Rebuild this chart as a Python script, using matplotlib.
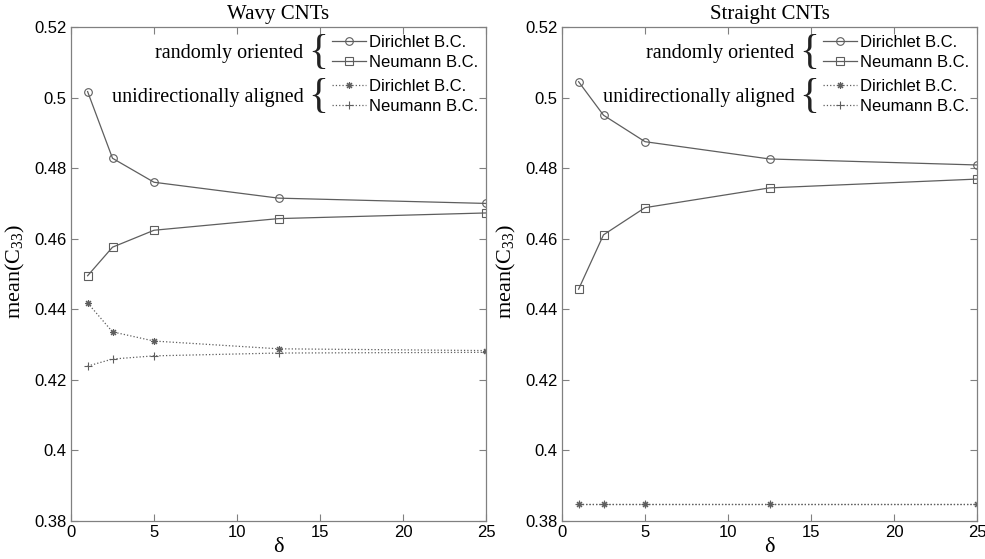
import matplotlib
matplotlib.use('Agg')
import matplotlib.pyplot as plt
from matplotlib.ticker import FuncFormatter

# delta values (x axis)
delta = [1, 2.5, 5, 12.5, 25]

# wavy CNTs
wavy_rand_dir = [0.5017, 0.4828, 0.4760, 0.4715, 0.4700]
wavy_rand_neu = [0.4495, 0.4576, 0.4624, 0.4657, 0.4673]
wavy_align_dir = [0.4418, 0.4336, 0.4310, 0.4288, 0.4283]
wavy_align_neu = [0.4239, 0.4259, 0.4268, 0.4276, 0.4278]

# straight CNTs
straight_rand_dir = [0.5045, 0.4950, 0.4875, 0.4826, 0.4809]
straight_rand_neu = [0.4457, 0.4611, 0.4688, 0.4744, 0.4769]
straight_align_dir = [0.3848, 0.3848, 0.3848, 0.3848, 0.3848]
straight_align_neu = [0.3847, 0.3847, 0.3847, 0.3847, 0.3847]

titles = ['Wavy CNTs', 'Straight CNTs']
entry_labels = ['Dirichlet B.C.', 'Neumann B.C.']
group_labels = ['randomly oriented', 'unidirectionally aligned']
yticks = [0.38, 0.40, 0.42, 0.44, 0.46, 0.48, 0.50, 0.52]
xticks = [0, 5, 10, 15, 20, 25]

plt.rcParams['mathtext.fontset'] = 'custom'
plt.rcParams['mathtext.rm'] = 'Liberation Serif'
plt.rcParams['mathtext.it'] = 'Liberation Serif:italic'

LINE = '#5e5e5e'
SPINE = '#808080'
SERIF = 'Liberation Serif'
SANS = 'Liberation Sans'
star = (8, 2, 0)  # asterisk marker, like matlab '*'

fig = plt.figure(figsize=(9.85, 5.59), dpi=100)
ax1 = fig.add_axes([71 / 985, 38 / 559, 415 / 985, 494 / 559])
ax2 = fig.add_axes([562 / 985, 38 / 559, 415 / 985, 494 / 559])

panels = [
    (ax1, wavy_rand_dir, wavy_rand_neu, wavy_align_dir, wavy_align_neu),
    (ax2, straight_rand_dir, straight_rand_neu, straight_align_dir, straight_align_neu),
]

for i, (ax, rd, rn, ad, an) in enumerate(panels):
    h1, = ax.plot(delta, rd, '-', color=LINE, lw=0.9, marker='o', ms=5.5,
                  mfc='none', mec=LINE, mew=0.8)
    h2, = ax.plot(delta, rn, '-', color=LINE, lw=0.9, marker='s', ms=5.5,
                  mfc='none', mec=LINE, mew=0.8)
    h3, = ax.plot(delta, ad, ':', color=LINE, lw=0.9, marker=star, ms=5,
                  mec=LINE, mew=0.8)
    h4, = ax.plot(delta, an, ':', color=LINE, lw=0.9, marker='+', ms=6,
                  mec=LINE, mew=0.8)

    ax.set_xlim(0, 25)
    ax.set_ylim(0.38, 0.52)
    ax.set_xticks(xticks)
    ax.set_yticks(yticks)
    ax.yaxis.set_major_formatter(FuncFormatter(lambda v, p: '%g' % round(v, 2)))
    ax.tick_params(direction='in', top=True, right=True, length=5,
                   width=0.8, color=SPINE, labelsize=12, pad=3)
    for lab in ax.get_xticklabels() + ax.get_yticklabels():
        lab.set_fontfamily(SANS)
    for sp in ax.spines.values():
        sp.set_color(SPINE)
        sp.set_linewidth(0.9)

    ax.set_title(titles[i], fontfamily=SERIF, fontsize=15, pad=6)
    ax.set_ylabel('mean(C$_{33}$)', fontfamily=SERIF, fontsize=16)
    ax.yaxis.set_label_coords(-0.106, 0.505)
    ax.set_xlabel('\u03b4', fontfamily=SERIF, fontsize=16)
    ax.xaxis.set_label_coords(0.5, -0.035)

    leg_kw = dict(frameon=False, loc='center left', borderpad=0,
                  handlelength=2.0, handletextpad=0.2, labelspacing=0.3,
                  numpoints=1, prop={'family': SANS, 'size': 12})
    leg1 = ax.legend([h1, h2], entry_labels, bbox_to_anchor=(0.61, 0.949),
                     **leg_kw)
    ax.add_artist(leg1)
    ax.legend([h3, h4], entry_labels, bbox_to_anchor=(0.61, 0.859), **leg_kw)

    # group labels with a brace in front of each pair of entries
    for y, txt in zip([0.947, 0.858], group_labels):
        ax.text(0.56, y, txt, transform=ax.transAxes, ha='right',
                va='center', fontfamily=SERIF, fontsize=14.5)
        ax.text(0.596, y, '{', transform=ax.transAxes, ha='center',
                va='center', fontfamily=SERIF, fontsize=30, color='#222222')

fig.savefig('out.png', dpi=100)
